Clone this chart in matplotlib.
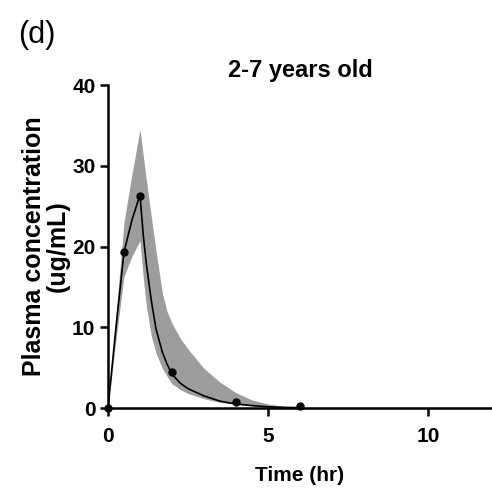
import numpy as np
import matplotlib
matplotlib.use("Agg")
import matplotlib.pyplot as plt

plt.rcParams['font.family'] = ['Liberation Sans', 'DejaVu Sans']

# observed concentrations (ug/mL)
obs_time = [0, 0.5, 1, 2, 4, 6]
obs_conc = [0, 19.3, 26.3, 4.4, 0.7, 0.2]

# model fit and its shaded band
fit_time = [0, 0.25, 0.5, 0.75, 1.0, 1.1, 1.2, 1.35, 1.5, 1.7, 1.85, 2.0, 2.25, 2.5, 3.0, 3.5, 4.0, 4.5, 5.0, 5.5, 6.0]
fit_conc = [0, 10.0, 19.3, 23.3, 26.4, 21.5, 17.8, 13.4, 9.8, 6.9, 5.4, 4.2, 3.1, 2.4, 1.5, 0.85, 0.5, 0.3, 0.15, 0.08, 0.04]
band_upper = [0, 11.5, 23.0, 29.0, 34.5, 31.3, 28.2, 23.8, 19.5, 14.2, 11.9, 10.5, 8.7, 7.3, 4.9, 3.2, 1.9, 1.0, 0.5, 0.2, 0.05]
band_lower = [0, 8.5, 16.3, 18.8, 20.7, 16.2, 12.6, 9.0, 6.8, 4.9, 3.9, 3.0, 2.3, 1.8, 1.15, 0.7, 0.45, 0.25, 0.1, 0.03, 0.0]

fig = plt.figure(figsize=(4.92, 4.92), dpi=100)
ax = fig.add_axes([0.2195, 0.1707, 0.7805, 0.6565])

ax.fill_between(fit_time, band_lower, band_upper, color='#9d9d9f', lw=0, zorder=1)
ax.plot(fit_time, fit_conc, color='black', lw=1.2, zorder=2)
ax.plot(obs_time, obs_conc, 'o', color='black', ms=5, clip_on=False, zorder=3)

ax.set_xlim(0, 12)
ax.set_ylim(0, 40)
ax.set_xticks([0, 5, 10])
ax.set_yticks([0, 10, 20, 30, 40])

for s in ['top', 'right']:
    ax.spines[s].set_visible(False)
for s in ['left', 'bottom']:
    ax.spines[s].set_linewidth(1.8)

ax.tick_params(direction='out', length=6, width=1.8, labelsize=15)
ax.tick_params(axis='x', pad=8)
ax.tick_params(axis='y', pad=3)
for lab in ax.get_xticklabels() + ax.get_yticklabels():
    lab.set_fontweight('bold')

ax.set_title('2-7 years old', fontsize=17, fontweight='bold', pad=6)
ax.set_xlabel('Time (hr)', fontsize=15, fontweight='bold', labelpad=14)
ax.set_ylabel('Plasma concentration\n(ug/mL)', fontsize=18, fontweight='bold',
              linespacing=0.95, labelpad=2)

fig.text(0.037, 0.96, '(d)', fontsize=22, va='top', ha='left')

fig.savefig('out.png', dpi=100)
